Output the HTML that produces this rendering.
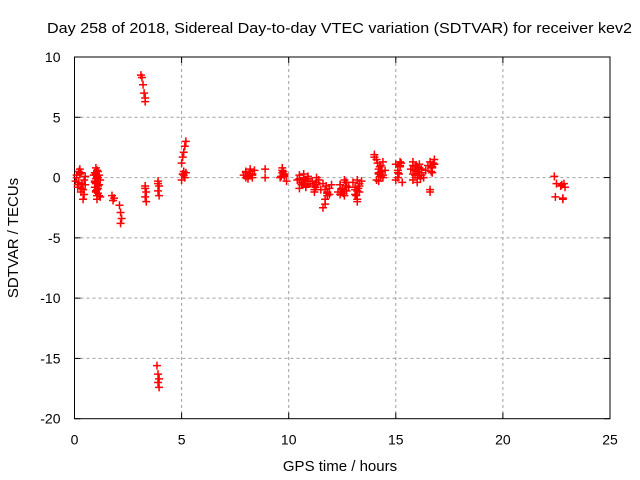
<!DOCTYPE html>
<html><head><meta charset="utf-8"><style>
body{margin:0;background:#fff}
svg{display:block;font-family:"Liberation Sans",sans-serif}
</style></head><body>
<svg id="chart" width="640" height="480" viewBox="0 0 640 480">
<text x="339.5" y="33" font-size="15" text-anchor="middle" textLength="585" lengthAdjust="spacingAndGlyphs">Day 258 of 2018, Sidereal Day-to-day VTEC variation (SDTVAR) for receiver kev2</text>
<g id="grid"></g>
<g id="axes"></g>
<g id="pts"></g>
<text x="340" y="471" font-size="15" text-anchor="middle">GPS time / hours</text>
<text x="0" y="0" font-size="15" text-anchor="middle" transform="translate(18,238) rotate(-90)">SDTVAR / TECUs</text>
</svg>
<script>
const xTicks=[0,5,10,15,20,25];
const yTicks=[10,5,0,-5,-10,-15,-20];
const hours=[0.05,0.1,0.15,0.2,0.25,0.3,0.35,0.4,0.45,0.5,0.15,0.3,0.4,0.45,
0.9,0.95,1.0,1.05,1.1,1.15,1.2,0.95,1.0,1.05,1.1,1.15,1.0,1.05,1.1,0.95,1.2,1.0,1.1,
1.75,1.8,1.85,2.1,2.15,2.15,2.2,
3.1,3.15,3.2,3.25,3.3,3.3,
3.3,3.35,3.3,3.35,3.3,3.9,3.95,3.9,3.95,3.9,
3.85,3.9,3.95,3.9,3.95,
5.0,5.05,5.1,5.15,5.2,5.05,5.1,5.15,5.0,5.1,5.2,
7.9,8.0,8.1,8.2,8.3,8.4,8.0,8.2,8.3,8.9,8.9,9.6,9.7,9.8,9.9,9.7,9.8,
10.4,10.5,10.6,10.7,10.8,10.9,11.0,10.5,10.7,10.9,10.6,10.8,
11.1,11.2,11.3,11.4,11.2,11.3,
11.5,11.6,11.7,11.8,11.9,12.0,11.7,11.8,11.9,11.6,
12.3,12.4,12.5,12.6,12.7,12.8,12.4,12.6,12.5,12.7,
13.0,13.1,13.2,13.3,13.4,13.1,13.2,13.3,13.2,
14.0,14.1,14.2,14.3,14.4,14.5,14.1,14.2,14.3,14.2,14.3,14.0,14.4,
15.0,15.1,15.2,15.3,15.1,15.2,15.0,
15.7,15.8,15.9,16.0,16.1,16.2,16.3,15.8,15.9,16.0,16.1,16.2,15.9,16.0,15.8,
16.4,16.5,16.6,16.7,16.8,16.6,16.7,16.6,
22.4,22.5,22.45,22.7,22.8,22.85,22.8,22.9,22.75,
0.1,0.2,0.3,0.5,0.25,1.0,1.05,0.95,1.1,1.15,1.0,1.05,
8.0,8.1,8.2,8.3,8.15,9.7,9.8,9.75,9.65,
10.5,10.6,10.7,10.8,10.9,10.65,10.75,11.2,11.3,11.25,11.7,11.8,11.75,
12.4,12.5,12.6,12.7,12.55,12.65,13.1,13.2,13.3,13.15,13.25,
14.2,14.3,14.25,14.35,14.4,14.15,15.1,15.2,15.15,15.25,
15.8,15.9,16.0,16.1,15.95,16.05,16.2,16.15,16.7,16.75,16.65,16.8];
const tecu=[-0.3,0.2,-0.8,0.5,0.7,-1.2,-0.5,-1.8,-0.2,0.1,-0.6,0.4,-1.0,-1.4,
0.2,-0.4,0.8,-1.0,0.5,-1.5,-0.2,-0.8,0.3,-1.8,0.0,-0.6,-1.2,0.6,-1.3,0.4,-1.6,-0.1,-0.9,
-1.5,-1.9,-1.7,-2.3,-2.9,-3.8,-3.4,
8.5,8.3,7.7,7.0,6.6,6.3,
-0.7,-1.2,-1.6,-2.0,-0.9,-0.3,-0.7,-1.1,-1.5,-0.5,
-15.6,-16.3,-16.7,-17.0,-17.4,
1.2,1.7,2.1,2.6,3.0,0.3,0.5,0.0,-0.2,0.2,0.4,
0.2,0.5,-0.1,0.7,0.3,0.6,0.0,0.3,0.2,0.0,0.7,0.0,0.6,0.3,-0.3,0.8,0.1,
-0.2,0.2,-0.6,0.0,-0.8,-0.3,-0.5,-0.9,0.3,0.1,-0.4,-0.7,
-0.3,-1.0,-0.6,-0.2,-1.2,0.0,
-1.0,-2.5,-1.8,-1.5,-0.9,-0.6,-2.2,-1.2,-1.4,-0.5,
-1.2,-0.6,-0.9,-1.5,-0.4,-0.8,-1.4,-0.2,-1.0,-1.1,
-0.4,-1.0,-1.8,-0.7,-0.3,-1.4,-0.2,-1.2,-2.0,
1.9,1.5,0.4,1.0,0.0,0.6,-0.2,0.7,0.2,-0.3,0.5,1.7,1.3,
1.1,0.0,1.3,-0.4,0.4,1.0,-0.2,
0.7,1.3,0.2,-0.4,0.8,0.4,0.0,-0.2,0.9,0.5,1.1,0.2,0.6,0.0,1.0,
0.6,1.0,1.3,0.4,1.5,-1.0,0.9,-1.2,
0.1,-0.5,-1.6,-0.7,-1.7,-0.5,-1.8,-0.8,-0.6,
0.0,-0.4,-0.9,-0.6,0.3,-0.5,0.1,-0.3,-0.7,0.2,-1.1,-1.5,
0.4,0.1,0.5,0.0,0.3,0.4,0.2,0.5,0.1,
-0.1,-0.4,-0.2,-0.6,-0.1,-0.5,-0.3,-0.7,-0.4,-0.8,-1.0,-1.3,-0.7,
-0.6,-0.9,-1.1,-0.7,-1.3,-0.4,-0.8,-1.1,-0.5,-1.5,-0.9,
0.3,0.1,0.9,0.5,0.2,1.2,0.6,0.9,0.3,1.2,
0.3,0.6,0.9,0.2,1.0,0.4,0.7,-0.1,0.8,1.2,0.5,1.1];
const X0=74.5,X1=610,Y0=57,Y1=418.7;
const xs=v=>X0+(v-0)/(25-0)*(X1-X0);
const ys=v=>Y1-(v-(-20))/(30)*(Y1-Y0);
const NS='http://www.w3.org/2000/svg';
function mk(tag,attrs,parent){const e=document.createElementNS(NS,tag);for(const k in attrs)e.setAttribute(k,attrs[k]);parent.appendChild(e);return e;}
const grid=document.getElementById('grid'),axes=document.getElementById('axes'),pts=document.getElementById('pts');
xTicks.forEach(t=>{const x=xs(t);
 if(t>0&&t<25){const g=mk('line',{x1:x,x2:x,y1:Y0,y2:Y1,stroke:'#a0a0a0','stroke-dasharray':'3,3'},grid);
 
 }
 const tk=mk('line',{x1:x,x2:x,y1:Y1,y2:Y1-6,stroke:'#000'},axes);
 
 
 const tk2=mk('line',{x1:x,x2:x,y1:Y0,y2:Y0+6,stroke:'#000'},axes);
 
 
 const l=mk('text',{x:x,y:Y1+26,'font-size':14,'text-anchor':'middle'},axes);l.textContent=t;
 
 
});
yTicks.forEach(t=>{const y=ys(t);
 if(t<10&&t>-20){const g=mk('line',{x1:X0,x2:X1,y1:y,y2:y,stroke:'#a0a0a0','stroke-dasharray':'3,3'},grid);
 
 }
 const tk=mk('line',{x1:X0,x2:X0+6,y1:y,y2:y,stroke:'#000'},axes);
 
 
 const tk2=mk('line',{x1:X1,x2:X1-6,y1:y,y2:y,stroke:'#000'},axes);
 
 
 const l=mk('text',{x:X0-14,y:y+5,'font-size':14,'text-anchor':'end'},axes);l.textContent=t;
 
 
});
const fr=mk('rect',{x:X0,y:Y0,width:X1-X0,height:Y1-Y0,fill:'none',stroke:'#000','stroke-width':1},axes);


hours.forEach((h,i)=>{const x=xs(h),y=ys(tecu[i]);
 const p=mk('path',{d:`M${x-4},${y}H${x+4}M${x},${y-4}V${y+4}`,stroke:'#ff0000','stroke-width':1.5,fill:'none'},pts);
 
 
});
</script>
</body></html>
